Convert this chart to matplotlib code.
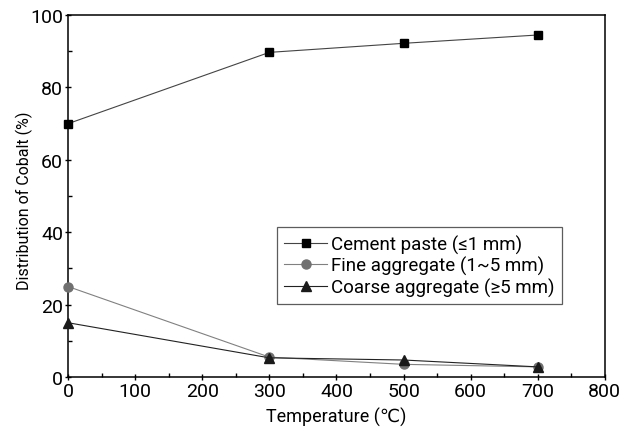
import matplotlib.pyplot as plt
from matplotlib.ticker import MultipleLocator

plt.rcParams['font.family'] = ['Roboto', 'DejaVu Sans']

temps = [0, 300, 500, 700]
cement = [70.0, 89.7, 92.2, 94.5]
fine = [25.0, 5.5, 3.5, 2.8]
coarse = [15.0, 5.3, 4.7, 2.8]

labels = ['Cement paste (\u22641 mm)', 'Fine aggregate (1~5 mm)', 'Coarse aggregate (\u22655 mm)']


def main():
    fig = plt.figure(figsize=(6.36, 4.35), dpi=100)
    ax = fig.add_axes([0.107, 0.131, 0.844, 0.832])

    ax.plot(temps, cement, color='#444444', lw=0.8, marker='s', ms=5.5,
            mfc='black', mec='black', label=labels[0], clip_on=False, zorder=3)
    ax.plot(temps, fine, color='#808080', lw=0.8, marker='o', ms=6.5,
            mfc='#707070', mec='#707070', label=labels[1], clip_on=False, zorder=3)
    ax.plot(temps, coarse, color='#222222', lw=0.8, marker='^', ms=6.5,
            mfc='#1a1a1a', mec='#1a1a1a', label=labels[2], clip_on=False, zorder=3)

    ax.set_xlim(0, 800)
    ax.set_ylim(0, 100)
    ax.xaxis.set_major_locator(MultipleLocator(100))
    ax.xaxis.set_minor_locator(MultipleLocator(50))
    ax.yaxis.set_major_locator(MultipleLocator(20))
    ax.yaxis.set_minor_locator(MultipleLocator(10))
    ax.tick_params(which='major', direction='inout', length=5, width=1, labelsize=14, pad=1)
    ax.tick_params(which='minor', direction='in', length=3, width=1)
    for s in ax.spines.values():
        s.set_linewidth(1.1)

    ax.set_xlabel('Temperature (\u2103)', fontsize=13, labelpad=5)
    ax.set_ylabel('Distribution of Cobalt (%)', fontsize=11.5)
    ax.yaxis.set_label_coords(-0.066, 0.49)

    leg = ax.legend(loc='upper left', bbox_to_anchor=(0.389, 0.414), fontsize=13.5,
                    frameon=True, fancybox=False, edgecolor='#333333',
                    handlelength=2.3, handletextpad=0.2, labelspacing=0.12,
                    borderpad=0.4, borderaxespad=0)
    leg.get_frame().set_linewidth(0.9)

    fig.savefig('out.png', dpi=100)


if __name__ == "__main__":
    main()
